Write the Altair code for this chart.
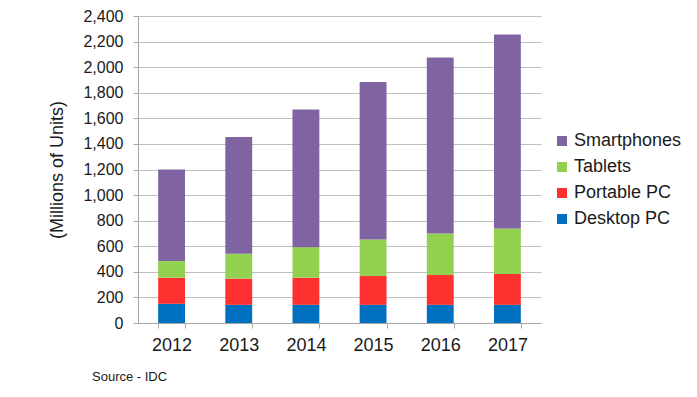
import altair as alt
import pandas as pd

years = ["2012", "2013", "2014", "2015", "2016", "2017"]
desktop = [150, 142, 142, 142, 142, 142]
portable = [204, 205, 212, 225, 233, 241]
tablets = [130, 194, 239, 285, 324, 355]
smartphones = [716, 914, 1077, 1233, 1376, 1517]

series = ["Desktop PC", "Portable PC", "Tablets", "Smartphones"]
legend_order = ["Smartphones", "Tablets", "Portable PC", "Desktop PC"]
colors = ["#8064A2", "#92D050", "#FF3030", "#0070C0"]
y_ticks = list(range(0, 2401, 200))

rows = []
for i, y in enumerate(years):
    for k, (name, vals) in enumerate(zip(series, [desktop, portable, tablets, smartphones])):
        rows.append({"Year": y, "Series": name, "Value": vals[i], "ord": k})
df = pd.DataFrame(rows)

FONT = "Liberation Sans"

chart = alt.Chart(df).mark_bar().encode(
    x=alt.X("Year:N", sort=years,
            scale=alt.Scale(paddingInner=0.6, paddingOuter=0.3),
            axis=alt.Axis(title=None, labelAngle=0, labelFontSize=18, labelFont=FONT,
                          labelColor="#1a1a1a", tickBand="extent", tickSize=5,
                          tickColor="#A6A6A6", domainColor="#A6A6A6", labelPadding=8)),
    y=alt.Y("Value:Q", stack="zero",
            scale=alt.Scale(domain=[0, 2400], nice=False),
            axis=alt.Axis(title="(Millions of Units)", values=y_ticks, format=",.0f",
                          titleFontSize=18, titleFont=FONT, titleFontWeight="normal",
                          titleColor="#1a1a1a", titlePadding=16,
                          labelFontSize=16, labelFont=FONT, labelColor="#1a1a1a",
                          labelPadding=10, tickSize=5, tickColor="#A6A6A6",
                          domainColor="#A6A6A6", gridColor="#BFBFBF")),
    color=alt.Color("Series:N",
                    scale=alt.Scale(domain=legend_order, range=colors),
                    legend=alt.Legend(title=None, orient="none", legendX=415, legendY=116,
                                      labelFontSize=18, labelFont=FONT, labelColor="#1a1a1a",
                                      symbolType="square", symbolSize=100,
                                      symbolStrokeWidth=0, labelOffset=3, rowPadding=8)),
    order=alt.Order("ord:Q", sort="ascending"),
).properties(
    width=403,
    height=307,
    autosize=alt.AutoSizeParams(type="none"),
    padding={"left": 130, "top": 8, "right": 148, "bottom": 66},
    title=alt.TitleParams("Source - IDC", orient="bottom", anchor="start", frame="group",
                          fontSize=13, font=FONT, fontWeight="normal", color="#1a1a1a",
                          dx=-46, offset=17),
).configure_view(stroke=None)

chart.save("out.html", embed_options={"renderer": "svg", "actions": False})
